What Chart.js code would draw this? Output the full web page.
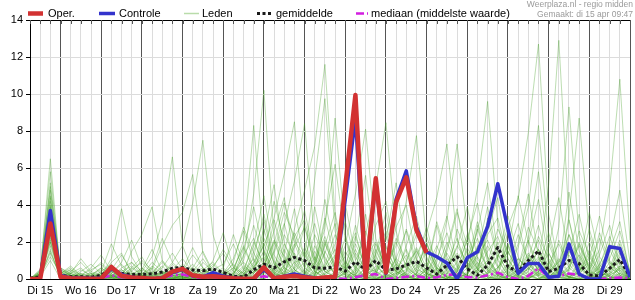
<!DOCTYPE html>
<html>
<head>
<meta charset="utf-8">
<script src="https://cdn.jsdelivr.net/npm/chart.js@4.4.1/dist/chart.umd.min.js"></script>
<style>
html, body { margin: 0; padding: 0; background: #fff; }
canvas { display: block; }
</style>
</head>
<body>
<canvas id="neerslag" width="635" height="300"></canvas>
<script>
// ===================================
// Neerslag pluim - regio midden
// ===================================
// one value every 6 hours, first value = di 15 06:00

const STEP_H = 6;

const dayLabels = ['Di 15', 'Wo 16', 'Do 17', 'Vr 18', 'Za 19', 'Zo 20', 'Ma 21',
    'Di 22', 'Wo 23', 'Do 24', 'Vr 25', 'Za 26', 'Zo 27', 'Ma 28', 'Di 29'];

const yTicks = [0, 2, 4, 6, 8, 10, 12, 14];

const legendLabels = ['Oper.', 'Controle', 'Leden', 'gemiddelde', 'mediaan (middelste waarde)'];
const credits = ['Weerplaza.nl - regio midden', 'Gemaakt: di 15 apr 09:47'];

// operational run (stops after 10 days)
const oper = [0, 0.02, 3.0, 0.12, 0.04, 0.03, 0.02, 0.03, 0.65, 0.18, 0.08, 0.05, 0.02, 0.04, 0.4,
    0.55, 0.2, 0.12, 0.15, 0.1, 0.04, 0.02, 0.02, 0.63, 0.04, 0.12, 0.16, 0.1, 0.03, 0.08,
    0.12, 5.0, 9.95, 0.05, 5.44, 0.35, 4.16, 5.5, 2.64, 1.42];

const controle = [0, 0.02, 3.7, 0.2, 0.05, 0.05, 0.03, 0.05, 0.55, 0.25, 0.1, 0.05, 0.02, 0.05, 0.35,
    0.5, 0.18, 0.12, 0.35, 0.15, 0.05, 0.02, 0.02, 0.5, 0.05, 0.15, 0.27, 0.15, 0.05, 0.03,
    0.03, 4.3, 8.7, 0.05, 5.3, 0.3, 4.3, 5.85, 2.8, 1.47, 1.2, 0.86, 0, 1.15, 1.47,
    2.85, 5.15, 2.7, 0.3, 0.84, 0.84, 0.1, 0.15, 1.9, 0.27, 0, 0, 1.74, 1.65, 0.1];

const gemiddelde = [0.05, 0.1, 3.0, 0.2, 0.12, 0.12, 0.1, 0.2, 0.55, 0.3, 0.25, 0.25, 0.28, 0.38, 0.58,
    0.62, 0.48, 0.45, 0.54, 0.35, 0.15, 0.1, 0.5, 0.8, 0.6, 0.93, 1.17, 1.0, 0.6, 0.58,
    0.66, 0.42, 0.93, 0.5, 1.0, 0.48, 0.55, 0.75, 0.95, 0.6, 0.27, 0.75, 1.2, 0.55, 0.2,
    0.75, 1.7, 0.66, 0.4, 1.0, 1.52, 0.4, 0.58, 1.0, 0.84, 0.22, 0.16, 0.58, 1.06, 0.12];

const mediaan = [0, 0, 2.9, 0.05, 0.02, 0.1, 0.05, 0.05, 0.2, 0.1, 0.03, 0.02, 0.02, 0.05, 0.2,
    0.25, 0.1, 0.05, 0.1, 0.05, 0, 0, 0.05, 0.15, 0.05, 0.1, 0.27, 0.1, 0.05, 0.03,
    0.02, 0.02, 0.1, 0.2, 0.27, 0, 0.05, 0.12, 0.16, 0.05, 0.1, 0.22, 0.24, 0.1, 0.08,
    0.2, 0.34, 0.1, 0, 0.16, 0.6, 0.07, 0.16, 0.3, 0.2, 0.05, 0, 0.05, 0.08, 0.05];

// ensemble members
const leden = [
    [0,0.3,6.5, 0.2,0,0,0.1, 0.3,0.5,0.2,0, 0,0.1,0.4,0.2, 0.3,0.1,0,0, 0,0,0.2,1.5, 3.2,0.8,0.4,0.2, 0.1,0,0.3,0.6, 1.2,2.5,0.4,0.1, 0,0.2,1.8,3.4, 1.1,0.3,0,0.5, 2.2,4.1,1.2,0.3, 0.1,0.6,2.8,1.5, 0.3,0.1,0,0.8, 3.6,1.2,0.4,0.1, 0],
    [0,0.1,5.2, 0.4,0.1,0,0, 0.2,0.9,1.4,0.3, 0.1,0,0,0.3, 0.6,0.2,0.1,0, 0,0.4,2.1,8.3, 1.6,0.3,0,0.1, 0.5,2.4,1.1,0.2, 0,0.3,3.5,0.8, 0.1,0,0.4,1.6, 0.3,0,0.2,2.7, 1.4,0.5,0.1,0, 0.2,1.1,0.6,0.1, 0,0.3,2.4,1.2, 0.2,0,0.6,2.1, 0.4],
    [0,0.2,4.5, 0.1,0,0.2,0.5, 0.8,0.2,0,0.1, 0.4,1.2,3.1,6.6, 1.8,0.4,0.1,0, 0,0,0,0.3, 0.9,2.6,4.4,1.1, 0.2,0,0,0.4, 1.5,0.6,0.1,0, 0.3,2.2,1.0,0.2, 0,0.1,1.7,3.8, 0.9,0.2,0,0.3, 1.6,4.5,2.0,0.3, 0,0.1,0.5,1.9, 0.7,0.2,0,0, 0],
    [0,0.4,4.0, 0,0.1,0.3,0, 0,0.1,0.6,0.9, 0.2,0,0,0.1, 0.3,0.8,0.2,0, 0,0.3,1.2,4.6, 10.2,2.2,0.5,0.1, 0,0.2,1.4,3.0, 0.6,0.1,0,0.2, 1.8,0.4,0.1,0, 0.5,2.9,0.8,0.1, 0,0.2,3.3,1.0, 0.2,0,0.1,0.7, 2.5,0.6,0.1,0, 0,0.4,1.5,3.1, 0.2],
    [0,0.1,3.8, 0.3,0.5,0.1,0, 0.2,1.1,3.8,1.2, 0.3,0,0.1,0.4, 0.1,0,0,0.2, 0.5,0.1,0,0.6, 2.4,5.1,1.3,0.2, 0,0.4,2.0,0.5, 0.1,0,0.6,2.9, 4.2,1.0,0.2,0, 0.3,0.1,0,0.1, 0.8,2.6,5.2,1.4, 0.3,0,0.2,1.1, 0.4,0.1,3.2,0.9, 0.1,0,0.2,0.5, 0],
    [0,0.2,3.5, 0.1,0.2,0,0.3, 0.1,0,0.2,0.4, 1.0,0.5,0.1,0, 0.2,0.6,1.5,0.4, 0.1,0,0.3,0.9, 1.8,3.3,5.7,8.5, 2.1,0.4,0,0.1, 0.3,1.4,0.5,0, 0.2,0.1,0.9,2.4, 1.2,0.2,0,0.6, 2.1,0.5,0.1,0, 0,0.2,1.9,4.3, 1.0,0.2,0,0.1, 0.6,2.2,0.7,0.1, 0],
    [0,0.3,3.2, 0.2,0,0,0, 0.1,0.4,0.1,1.5, 2.4,3.9,1.0,0.2, 0,0.1,0,0.3, 0.2,0.1,0,0, 0.4,1.5,3.6,2.3, 0.6,3.9,1.2,0.2, 0,0,0.3,1.3, 3.0,0.7,0.1,0, 0.2,1.6,3.4,0.8, 0.1,0,0.4,2.0, 0.6,0.1,0,0.3, 1.7,4.4,1.1,0.2, 0,0.1,0.9,0.4, 0],
    [0,0.1,3.0, 0.5,0.2,0.1,0, 0,0.3,0.8,0.2, 0,0.2,0.6,1.4, 0.5,0.1,0,0, 0.3,1.1,2.6,1.0, 0.2,0.5,2.9,5.3, 8.4,2.0,0.4,0.1, 0,0.2,1.1,0.3, 0.5,2.8,4.0,1.1, 0.2,0,0.1,0.4, 1.5,0.3,0,0.1, 2.6,0.8,0.2,0, 0.1,0.6,1.4,3.5, 1.0,0.2,0,0.3, 0.1],
    [0,0.2,2.8, 0,0,0.4,0.8, 0.3,0.1,0,0, 0.1,0.5,1.8,2.9, 3.6,5.65,1.4,0.3, 0,0,0.1,0.5, 1.9,0.6,0.2,1.8, 3.7,1.1,0.2,0, 0.4,2.1,5.6,1.2, 0.3,0,0.2,0.6, 1.9,0.5,0.1,0, 0.3,1.8,0.6,0.2, 0,0.1,2.2,5.8, 1.4,0.3,0.1,0, 0.2,1.3,2.9,0.8, 0],
    [0,0.5,2.6, 0.2,0,0.1,0.2, 0.6,0.2,0,0.1, 0.3,0.1,0,0, 0.4,1.3,0.6,0.1, 0,0.2,1.6,3.9, 1.4,0.3,0.1,2.7, 4.8,7.2,11.6,3.4, 0.6,0.1,0,0.4, 1.4,0.3,0,0.2, 2.3,0.8,0.1,0, 0.4,2.7,1.1,0.2, 0,0.3,0.8,0.2, 0,0.4,1.8,0.6, 2.7,0.8,0.1,0, 0],
    [0,0.1,2.4, 0.3,0.7,0.2,0, 0,0.1,0.3,0.2, 0.1,0.6,2.2,0.9, 1.8,4.1,7.5,2.4, 0.6,0.1,0,0.2, 0.7,2.1,1.2,0.3, 0,0.5,3.1,6.2, 2.1,0.4,0.1,0, 0.2,1.1,2.6,0.7, 0.1,0,0.5,1.7, 3.9,1.1,0.2,0, 0.5,1.9,4.6,1.2, 0.2,0,0.1,0.9, 0.3,0,0.2,1.2, 0.3],
    [0,0.2,2.2, 0.1,0.4,0.9,0.3, 0,0,0.1,0.6, 1.2,0.3,0,0.2, 0.1,0,0.2,0.7, 1.4,0.4,0.1,0, 0.3,1.9,4.1,2.0, 1.2,5.4,9.75,2.6, 0.4,0,0.2,1.1, 2.6,0.6,0.1,0, 0.3,1.3,0.4,0.1, 0,0.5,2.4,3.3, 1.1,0.2,0,0.4, 1.9,0.5,0.1,0, 0,0.7,2.3,0.8, 0.1],
    [0,0.1,2.0, 0,0.3,0.1,0, 0.4,1.9,0.7,0.1, 0,0.1,0.3,0.1, 0,0.2,0.5,0.2, 0.1,0.9,2.8,1.4, 0.4,0,0.6,2.3, 3.2,1.0,2.7,8.7, 2.4,0.5,0.1,0, 0.2,0.8,0.3,0, 0.6,3.1,1.2,0.3, 0.1,0,0.3,0.6, 1.3,3.0,0.9,0.1, 0,0.2,0.6,1.8, 0.6,0.1,0,0.2, 0],
    [0,0.3,1.8, 0.2,0.1,0,0.1, 0.2,0,0.1,0.3, 0.5,1.6,0.4,0, 0.1,0.3,0.2,1.0, 2.5,0.6,0.1,0, 0.5,3.2,1.0,0.2, 0,0.2,1.5,0.5, 1.8,4.6,8.1,2.2, 0.5,0.1,0,0.3, 0.9,0.2,0,0.1, 0.6,1.7,0.5,0, 0.2,0.7,2.1,0.6, 0.1,0.4,4.7,1.5, 0.4,0.1,0,0.6, 0],
    [0,0.1,1.5, 0.1,0,0,0.4, 0.9,0.3,0,0, 0.2,0,0.1,0.8, 0.3,0.1,0,0.1, 0,0.1,0.4,2.0, 0.8,0.2,0,0.5, 1.7,0.6,0.2,1.2, 3.1,1.0,2.4,5.0, 8.45,2.6,0.5,0.1, 0,0.3,1.4,0.4, 0.2,2.9,0.9,0.2, 0,0.1,0.4,1.6, 0.5,0.1,0,0.2, 1.1,3.4,1.0,0.2, 0],
    [0,0.2,1.2, 0.3,0.6,0.2,0, 0.1,0.2,0,0, 0,0.3,0.9,0.3, 0.7,0.2,0,0, 0.2,0.6,0.3,0.1, 0,0.4,1.6,0.5, 0.1,0.9,2.3,0.7, 0.2,0,0.3,1.9, 0.6,1.8,4.2,7.75, 2.0,0.5,0.1,0, 0.3,0.9,0.2,1.1, 3.4,1.2,0.3,0, 0.2,1.0,0.3,0.1, 0,0.3,2.0,4.8, 0.9],
    [0,0.4,4.8, 0.6,0.2,0,0, 0,0.2,0.5,0.1, 0,0,0.2,0.5, 1.1,0.4,0.1,0, 0,0,0.5,1.8, 4.5,1.3,0.3,0.1, 0.2,1.8,0.6,0, 0,0.5,1.7,0.4, 0.1,0,0.4,1.3, 2.5,4.4,7.3,2.1, 0.5,0.1,0,0.2, 0.6,2.4,1.0,0.2, 0,0.2,0.5,2.6, 1.3,0.3,0,0.1, 0],
    [0,0.2,3.4, 0.1,0.1,0.5,0.2, 0,0.1,0.2,0.9, 0.4,0.1,0,0, 0,0.2,0.9,0.4, 0.1,0.3,1.0,2.9, 1.1,0.2,0.3,1.4, 0.4,0.1,0.8,2.4, 0.8,0.2,0,0.1, 0.6,2.0,0.7,0.2, 0,0.9,3.2,7.3, 2.6,0.6,0.1,0, 0.1,0.4,1.3,0.5, 0.2,2.1,0.8,0.2, 0,0.1,0.4,1.9, 0.2],
    [0,0.1,2.9, 0.2,0.3,0,0, 0.1,0.6,0.2,0, 0.1,0.4,0.2,0.1, 0.3,0.1,0.4,0.2, 0,0.2,0.7,0.3, 2.2,0.9,0.2,0, 0.3,1.5,0.4,0.1, 0.7,2.3,0.6,0.1, 0,0.4,1.6,0.5, 0.3,0.1,1.5,3.6, 1.8,4.9,9.6,3.0, 0.6,0.1,0,0.4, 1.4,0.4,0.1,0, 0.3,2.5,0.9,0.2, 0],
    [0,0.3,2.5, 0.4,0,0,0.1, 0.2,0.7,0.1,0, 0,0.2,0.7,0.2, 0.1,0,0.1,0.5, 0.8,1.9,0.5,0.1, 0,0.3,1.4,3.8, 1.0,0.2,0,0.3, 0.9,0.3,0.1,1.4, 3.6,0.9,0.2,0, 0.1,0.5,2.0,0.6, 0.2,0,0.3,1.2, 2.8,4.3,7.9,12.7, 3.5,0.7,0.1,0, 0.2,0.6,1.6,0.4, 0],
    [0,0.1,1.0, 0,0.2,0.1,0, 0.3,0.1,0.4,0.7, 0.2,0,0,0.2, 0.5,1.7,0.6,0.1, 0,0.1,0.2,0.8, 2.7,0.8,0.2,0, 0.1,0.7,3.3,1.1, 0.2,0,0.4,0.9, 2.1,5.2,1.5,0.3, 0,0.2,0.7,0.2, 1.0,3.1,1.2,0.3, 0.4,1.7,3.9,8.3, 2.2,0.5,0.1,0.3, 1.6,0.4,0.1,0, 0],
    [0,0.5,5.8, 0.3,0.1,0.2,0.6, 1.3,0.4,0.1,0, 0,0.1,0,0.3, 0.2,0.1,0,0, 0.1,0.5,1.8,0.6, 0.2,0,0.8,2.5, 1.3,0.4,0.1,0, 0.3,1.9,0.7,0.2, 0,0.1,0.9,2.8, 0.8,0.2,0,0.4, 1.7,0.5,2.6,4.4, 1.1,0.2,0,0.6, 5.1,12.9,3.2,0.6, 0.1,0,0.3,1.4, 0.1],
    [0,0.2,3.6, 0.1,0.3,0.6,0.1, 0,0.1,0,0.2, 0.6,0.2,0.1,0, 0,0.4,1.1,0.3, 0.1,0,0.1,0.4, 1.2,4.2,2.0,0.5, 0.1,0.3,1.8,3.6, 1.0,0.2,0,0.3, 1.2,0.4,0.1,0, 0.2,1.1,2.5,0.7, 0,0.3,0.9,2.7, 1.5,0.4,0.1,0, 0.3,2.8,9.3,2.3, 0.5,0.1,0,0.7, 0],
    [0,0.1,2.7, 0.5,0.2,0,0, 0.1,0.3,0.9,2.1, 0.6,0.1,0,0, 0.2,0.1,0.3,0.8, 0.2,0,0.2,1.2, 3.5,1.0,0.2,0.6, 2.9,0.7,0.1,0, 0,0.6,2.6,0.8, 0.2,0,0.3,1.0, 2.8,0.6,0.1,0.2, 0.9,2.2,0.5,0.1, 0,0.2,1.1,2.9, 0.8,0.3,3.4,8.7, 2.4,0.5,0.1,0, 0],
    [0,0.3,2.0, 0.2,0,0.1,0.2, 0.5,0.1,0,0.3, 0.1,0.7,0.3,0, 0.1,0,0.2,0.1, 0,0.3,0.9,0.4, 0.7,2.0,0.6,0.2, 0,0.2,0.6,1.9, 4.1,1.2,0.3,0, 0.1,0.5,1.3,0.4, 0,0.2,0.8,2.2, 0.6,0.1,0,0.5, 1.8,0.5,0.1,0.2, 0.9,0.2,0.7,2.0, 0.5,1.6,4.9,10.8, 2.1],
    [0,0.2,4.2, 0.2,0.4,0.1,0, 0,0.2,0.3,0.1, 0.2,0.9,0.4,0.1, 0,0.1,0.2,0.6, 1.6,0.7,0.2,0, 0.3,0.6,2.4,1.3, 0.3,0.9,4.3,1.4, 0.3,0,0.2,1.6, 0.5,0.1,0,0.3, 1.6,0.4,0.1,0, 0.2,1.4,3.9,1.1, 0.2,0,0.6,2.3, 1.1,0.3,0.1,0.4, 2.0,0.6,0.2,0, 0],
    [0,0.2,3.1, 0.1,0.3,1.1,0.4, 0.2,0,0.1,0.5, 0.9,0.3,0.1,0, 0.2,0.5,0.2,0.1, 0,0.2,1.3,2.2, 0.6,0.1,0.4,1.7, 2.8,0.9,0.2,0.1, 0.5,1.6,0.5,0, 0.1,0.6,2.7,1.0, 0.3,0.1,0.6,1.4, 0.5,1.3,2.1,0.7, 0.1,0.5,1.4,0.4, 0,0.3,1.5,0.6, 0.2,0.8,1.9,0.5, 0],
    [0,0.1,1.6, 0,0.1,0,0.2, 0.6,0.2,0,0, 0.1,0.3,1.0,0.4, 0.1,0,0.1,0.3, 0.6,2.4,0.8,0.2, 0,0.5,1.9,0.8, 0.2,1.2,0.4,0.6, 2.2,0.7,0.1,0.3, 1.3,0.4,0.1,0.5, 1.9,0.6,0.2,0, 0.1,0.7,1.8,0.6, 1.5,0.4,0.8,2.1, 0.6,0.1,0,0.4, 1.2,0.3,0.5,1.6, 0.3],
    [0,0.3,4.4, 0.3,0,0,0.1, 0,0.5,1.3,0.4, 0.1,0,0.2,0.9, 0.4,0.1,0,0.2, 0.3,0.8,0.3,0.6, 1.5,0.5,0.2,0.9, 1.1,3.0,0.9,0.3, 0.1,0.4,1.2,2.0, 0.6,0.2,0.8,1.5, 0.4,0.1,0.3,0.9, 2.4,0.8,0.3,1.3, 0.4,0.1,0.6,0.2, 0.8,1.9,0.6,0.2, 0.1,0.4,0.2,0.6, 0],
    [0,0.1,2.3, 0.6,0.3,0.1,0, 0.1,0.2,0.5,0.1, 0,0.1,0.4,0.3, 0.8,0.3,0.1,0, 0.1,0,0.4,1.1, 0.4,1.4,3.0,0.9, 0.3,0.1,0.7,1.6, 0.5,0.2,1.3,0.4, 0,0.3,0.7,0.2, 0.6,1.8,0.5,0.1, 0,0.4,1.5,2.3, 0.7,0.2,0.9,0.3, 0.1,0.5,1.3,0.4, 1.4,0.4,0.1,0.3, 0],
    [0,0.2,3.9, 0.2,0.1,0.3,0.1, 0.4,0.8,0.2,0, 0.2,0.1,0,0.1, 0.1,0.3,0.6,0.2, 0,0.1,0.6,0.3, 0.9,0.3,0.7,1.9, 0.6,0.2,1.9,0.6, 0.2,0.9,0.3,0.5, 1.7,0.5,0.2,0.8, 0.3,0,0.5,1.8, 0.9,0.3,0.1,0.6, 1.9,0.6,0.2,0, 0.3,1.1,0.4,1.3, 0.4,0.2,0.6,0.3, 0],
    [0,0.1,2.1, 0.1,0.2,0,0, 0.3,0.1,0.2,0.6, 0.2,0,0.3,0.2, 0.1,0.6,0.3,0.1, 0.2,0.6,1.7,0.5, 0.1,0.2,0.6,0.3, 1.5,0.4,0.1,0.9, 0.6,2.9,1.0,0.2, 0.1,0.3,0.5,1.7, 0.6,0.2,1.1,0.3, 0.1,0.5,1.0,0.3, 0,0.3,0.5,1.2, 0.4,0.9,2.4,0.7, 0.2,0.1,0.5,0.9, 0.1],
    [0,0.4,5.0, 0.1,0,0.2,0.3, 0.1,0.4,0.2,0.1, 0.5,0.2,0.1,0.4, 0.2,0,0.2,0.1, 0.4,0.2,0,0.4, 0.6,0.2,1.1,0.5, 0.2,0.8,2.1,0.7, 0.3,0.1,0.6,0.4, 2.3,0.8,0.2,0.1, 0.5,0.3,0.9,0.5, 0.2,1.2,0.4,0.1, 0.3,1.1,0.5,1.6, 0.7,0.2,0.1,0.5, 0.9,0.3,1.1,2.6, 0.4],
    [0,0.2,1.4, 0.2,0.5,0.2,0, 0,0.1,0.3,0.2, 0.3,0.6,0.2,0.1, 0,0.2,0.5,0.9, 0.3,0.1,0.2,0.7, 1.2,0.4,0.1,0.4, 0.9,0.3,0.5,1.3, 0.4,0.2,0.1,0.7, 0.2,1.1,0.6,0.2, 0.1,0.6,0.3,0.2, 1.1,0.3,0.7,0.2, 0.8,0.2,1.2,0.5, 0.1,0.6,0.2,0.3, 0.8,0.2,0.3,0.7, 0]
];

const FONT = '"Liberation Sans", Arial, sans-serif';
const LAST_H = (controle.length - 1) * STEP_H;   // 354 h, wo 30 00:00

function toPoints(values) {
    return values.map((v, i) => ({ x: i * STEP_H, y: v }));
}

// hour grid: every 6 h, midnights are hour 18 + 24k
const hourGrid = [];
for (let h = 0; h <= LAST_H; h += STEP_H) hourGrid.push(h);

function isMidnight(h) { return (h - 18) % 24 === 0; }

function dayLabelFor(h) {
    if ((h - 6) % 24 !== 0) return '';
    return dayLabels[(h - 6) / 24] || '';
}

// line styles, also used by the legend
const styles = [
    { color: '#d23232', width: 4.5, dash: [] },
    { color: '#3333cc', width: 3.5, dash: [] },
    { color: 'rgba(70,160,40,0.36)', width: 1, dash: [], legendColor: '#b9dcaa' },
    { color: '#1a1a1a', width: 3, dash: [3, 2.5] },
    { color: '#d21ee0', width: 2.5, dash: [8, 3, 2, 3] }
];

const legendPos = [
    { line: 28, len: 15, text: 48 },
    { line: 99, len: 16, text: 119 },
    { line: 184, len: 15, text: 202 },
    { line: 257, len: 15, text: 276 },
    { line: 356, len: 12, text: 371 }
];

const paperPlugin = {
    id: 'paper',
    beforeDraw(chart) {
        const ctx = chart.ctx;
        ctx.save();
        ctx.fillStyle = '#fff';
        ctx.fillRect(0, 0, chart.width, chart.height);
        ctx.restore();
    }
};

// top frame line with short ticks hanging down
const topFramePlugin = {
    id: 'topFrame',
    afterDraw(chart) {
        const { ctx, chartArea: a, scales } = chart;
        ctx.save();
        ctx.lineWidth = 1;
        ctx.strokeStyle = '#000';
        ctx.beginPath();
        ctx.moveTo(a.left, a.top + 0.5);
        ctx.lineTo(a.right, a.top + 0.5);
        ctx.stroke();
        ctx.strokeStyle = '#555';
        hourGrid.forEach(h => {
            const px = Math.round(scales.x.getPixelForValue(h)) + 0.5;
            ctx.beginPath();
            ctx.moveTo(px, a.top);
            ctx.lineTo(px, a.top + 4);
            ctx.stroke();
        });
        ctx.restore();
    }
};

const headerPlugin = {
    id: 'header',
    afterDraw(chart) {
        const ctx = chart.ctx;
        ctx.save();
        const y = 13.5;
        legendLabels.forEach((label, k) => {
            const st = styles[k];
            const p = legendPos[k];
            ctx.strokeStyle = st.legendColor || st.color;
            ctx.lineWidth = st.width === 1 ? 1.5 : st.width;
            ctx.setLineDash(st.dash);
            ctx.beginPath();
            ctx.moveTo(p.line, y);
            ctx.lineTo(p.line + p.len, y);
            ctx.stroke();
            ctx.setLineDash([]);
            ctx.fillStyle = '#000';
            ctx.font = '11px ' + FONT;
            ctx.textBaseline = 'middle';
            ctx.textAlign = 'left';
            ctx.fillText(label, p.text, y + 0.5);
        });
        ctx.fillStyle = '#9a9a9a';
        ctx.font = '8.5px ' + FONT;
        ctx.textAlign = 'right';
        ctx.textBaseline = 'alphabetic';
        ctx.fillText(credits[0], 633, 7);
        ctx.fillText(credits[1], 633, 17);
        ctx.restore();
    }
};

function lineSet(label, values, st, order) {
    return {
        label: label,
        data: toPoints(values),
        borderColor: st.color,
        borderWidth: st.width,
        borderDash: st.dash,
        pointRadius: 0,
        fill: false,
        tension: 0,
        order: order
    };
}

const datasets = [
    lineSet('Oper.', oper, styles[0], 0),
    lineSet('Controle', controle, styles[1], 1),
    lineSet('gemiddelde', gemiddelde, styles[3], 2),
    lineSet('mediaan (middelste waarde)', mediaan, styles[4], 3)
];
leden.forEach((serie, k) => datasets.push(lineSet('Leden', serie, styles[2], 10 + k)));

new Chart(document.getElementById('neerslag'), {
    type: 'line',
    data: { datasets: datasets },
    options: {
        responsive: false,
        animation: false,
        devicePixelRatio: 1,
        layout: { padding: { top: 20, right: 0, left: 0, bottom: 0 } },
        elements: { line: { borderJoinStyle: 'round', borderCapStyle: 'butt' } },
        plugins: {
            legend: { display: false },
            tooltip: { enabled: false }
        },
        scales: {
            x: {
                type: 'linear',
                min: 0,
                max: LAST_H,
                afterBuildTicks: s => { s.ticks = hourGrid.map(h => ({ value: h })); },
                afterFit: s => { s.height = 21; },
                border: { color: '#000', width: 1 },
                grid: {
                    color: c => (c.tick && isMidnight(c.tick.value)) ? '#555' : '#dcdcdc',
                    drawTicks: false
                },
                ticks: {
                    autoSkip: false,
                    maxRotation: 0,
                    padding: 5,
                    color: '#000',
                    font: { family: FONT, size: 11 },
                    callback: v => dayLabelFor(v)
                }
            },
            y: {
                min: yTicks[0],
                max: yTicks[yTicks.length - 1],
                afterBuildTicks: s => { s.ticks = yTicks.map(v => ({ value: v })); },
                afterFit: s => { s.width = 30; },
                border: { color: '#000', width: 1 },
                grid: { color: '#dcdcdc', tickColor: '#000', tickLength: 4 },
                ticks: {
                    padding: 3,
                    color: '#000',
                    font: { family: FONT, size: 11 }
                }
            }
        }
    },
    plugins: [paperPlugin, topFramePlugin, headerPlugin]
});
</script>
</body>
</html>
